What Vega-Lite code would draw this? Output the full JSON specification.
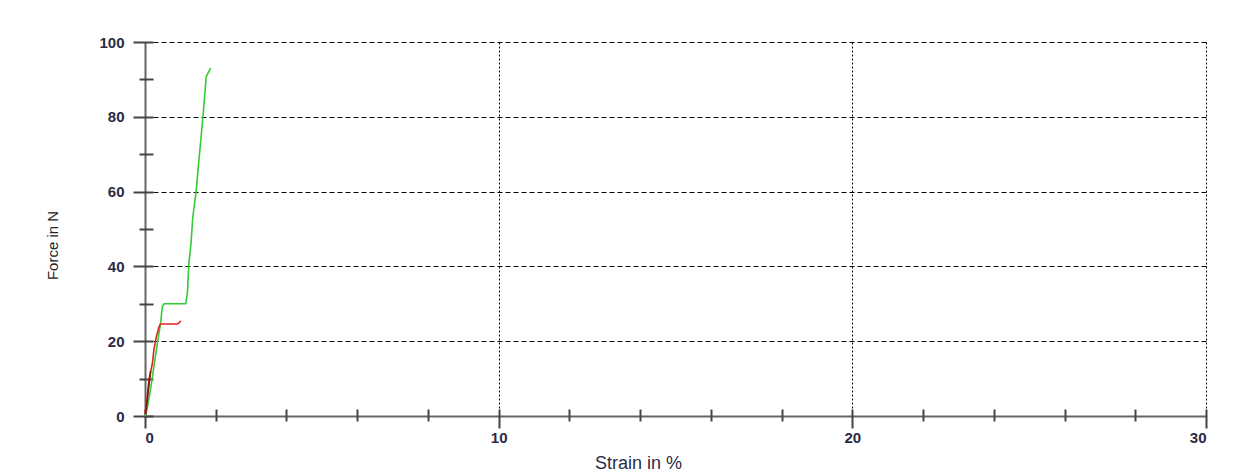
{
  "$schema": "https://vega.github.io/schema/vega-lite/v6.json",
  "autosize": {"type": "none"},
  "padding": {"left": 145, "top": 42, "right": 37, "bottom": 58},
  "width": 1061,
  "height": 374,
  "background": "white",
  "config": {"view": {"stroke": null}, "font": "Liberation Sans"},
  "data": {"values": [
    {"series": "green", "i": 0, "strain": 0.0, "force": 0.0},
    {"series": "green", "i": 1, "strain": 0.05, "force": 1.6},
    {"series": "green", "i": 2, "strain": 0.12, "force": 5.0},
    {"series": "green", "i": 3, "strain": 0.21, "force": 10.5},
    {"series": "green", "i": 4, "strain": 0.28, "force": 15.0},
    {"series": "green", "i": 5, "strain": 0.35, "force": 19.4},
    {"series": "green", "i": 6, "strain": 0.44, "force": 24.8},
    {"series": "green", "i": 7, "strain": 0.49, "force": 29.2},
    {"series": "green", "i": 8, "strain": 0.54, "force": 30.0},
    {"series": "green", "i": 9, "strain": 1.15, "force": 30.0},
    {"series": "green", "i": 10, "strain": 1.2, "force": 32.8},
    {"series": "green", "i": 11, "strain": 1.24, "force": 40.8},
    {"series": "green", "i": 12, "strain": 1.3, "force": 46.0},
    {"series": "green", "i": 13, "strain": 1.35, "force": 53.0},
    {"series": "green", "i": 14, "strain": 1.45, "force": 60.4},
    {"series": "green", "i": 15, "strain": 1.52, "force": 68.0},
    {"series": "green", "i": 16, "strain": 1.58, "force": 74.0},
    {"series": "green", "i": 17, "strain": 1.64, "force": 80.0},
    {"series": "green", "i": 18, "strain": 1.69, "force": 86.0},
    {"series": "green", "i": 19, "strain": 1.73, "force": 90.7},
    {"series": "green", "i": 20, "strain": 1.8, "force": 92.0},
    {"series": "green", "i": 21, "strain": 1.86, "force": 93.0},
    {"series": "red", "i": 0, "strain": 0.0, "force": 0.5},
    {"series": "red", "i": 1, "strain": 0.05, "force": 4.0},
    {"series": "red", "i": 2, "strain": 0.11, "force": 9.6},
    {"series": "red", "i": 3, "strain": 0.21, "force": 14.1},
    {"series": "red", "i": 4, "strain": 0.25, "force": 17.6},
    {"series": "red", "i": 5, "strain": 0.32, "force": 21.2},
    {"series": "red", "i": 6, "strain": 0.4, "force": 23.9},
    {"series": "red", "i": 7, "strain": 0.44, "force": 24.6},
    {"series": "red", "i": 8, "strain": 0.91, "force": 24.6},
    {"series": "red", "i": 9, "strain": 0.96, "force": 24.9},
    {"series": "red", "i": 10, "strain": 1.01, "force": 25.5},
    {"series": "overlap", "i": 0, "strain": 0.02, "force": 0.5},
    {"series": "overlap", "i": 1, "strain": 0.06, "force": 4.0},
    {"series": "overlap", "i": 2, "strain": 0.12, "force": 9.0},
    {"series": "overlap", "i": 3, "strain": 0.16, "force": 12.0}
  ]},
  "layer": [
    {
      "transform": [{"filter": "datum.series === 'green'"}],
      "mark": {"type": "line", "color": "#33cc33", "strokeWidth": 1.6},
      "encoding": {
        "x": {"field": "strain", "type": "quantitative",
          "scale": {"domain": [0, 30], "nice": false, "zero": false},
          "axis": {"orient": "bottom", "values": [0, 10, 20, 30], "format": "d",
            "grid": false, "ticks": false, "domain": true, "domainColor": "#666666", "domainWidth": 2,
            "labelFont": "Liberation Sans", "labelFontSize": 15, "labelFontWeight": "bold", "labelColor": "#2b2b45",
            "labelPadding": 14, "labelBaseline": "top",
            "title": "Strain in %", "titleFont": "Liberation Sans", "titleFontSize": 18, "titleFontWeight": "normal",
            "titleColor": "#2b2b45", "titleX": 493, "titleY": 52, "titleBaseline": "alphabetic", "titleAlign": "center"}},
        "y": {"field": "force", "type": "quantitative",
          "scale": {"domain": [0, 100], "nice": false},
          "axis": {"orient": "left", "values": [0, 20, 40, 60, 80, 100], "format": "d",
            "grid": false, "ticks": false, "domain": true, "domainColor": "#666666", "domainWidth": 2,
            "labelFont": "Liberation Sans", "labelFontSize": 15, "labelFontWeight": "bold", "labelColor": "#2b2b45",
            "labelPadding": 21, "labelAlign": "right", "labelBaseline": "middle",
            "title": "Force in N", "titleFont": "Liberation Sans", "titleFontSize": 15, "titleFontWeight": "normal",
            "titleColor": "#222222", "titleX": -93, "titleY": 203, "titleAngle": 270, "titleBaseline": "middle", "titleAlign": "center"}},
        "order": {"field": "i", "type": "quantitative"}
      }
    },
    {
      "transform": [{"filter": "datum.series !== 'green'"}],
      "mark": {"type": "line", "strokeWidth": 1.6},
      "encoding": {
        "x": {"field": "strain", "type": "quantitative",
          "axis": {"orient": "bottom", "values": [0, 2, 4, 6, 8, 10, 12, 14, 16, 18, 20, 22, 24, 26, 28, 30],
            "labels": false, "title": null, "domain": false, "offset": -7,
            "ticks": true, "tickColor": "#444444", "tickWidth": 2,
            "tickSize": {"condition": {"test": "datum.value % 10 === 0", "value": 19}, "value": 12},
            "grid": true, "gridColor": "#000000", "gridWidth": 1, "gridDash": [2, 2],
            "gridOpacity": {"condition": {"test": "datum.value % 10 === 0 && datum.value > 0", "value": 1}, "value": 0}}},
        "y": {"field": "force", "type": "quantitative",
          "axis": {"orient": "left", "values": [0, 10, 20, 30, 40, 50, 60, 70, 80, 90, 100],
            "labels": false, "title": null, "domain": false, "offset": -8,
            "ticks": true, "tickColor": "#444444", "tickWidth": 2,
            "tickSize": {"condition": {"test": "datum.value % 20 === 0", "value": 20}, "value": 14},
            "grid": true, "gridColor": "#000000", "gridWidth": 1, "gridDash": [5, 3],
            "gridOpacity": {"condition": {"test": "datum.value % 20 === 0 && datum.value > 0", "value": 1}, "value": 0}}},
        "color": {"field": "series", "type": "nominal",
          "scale": {"domain": ["red", "overlap"], "range": ["#e02424", "#7a1a10"]}, "legend": null},
        "order": {"field": "i", "type": "quantitative"}
      }
    }
  ],
  "resolve": {"axis": {"x": "independent", "y": "independent"}}
}
